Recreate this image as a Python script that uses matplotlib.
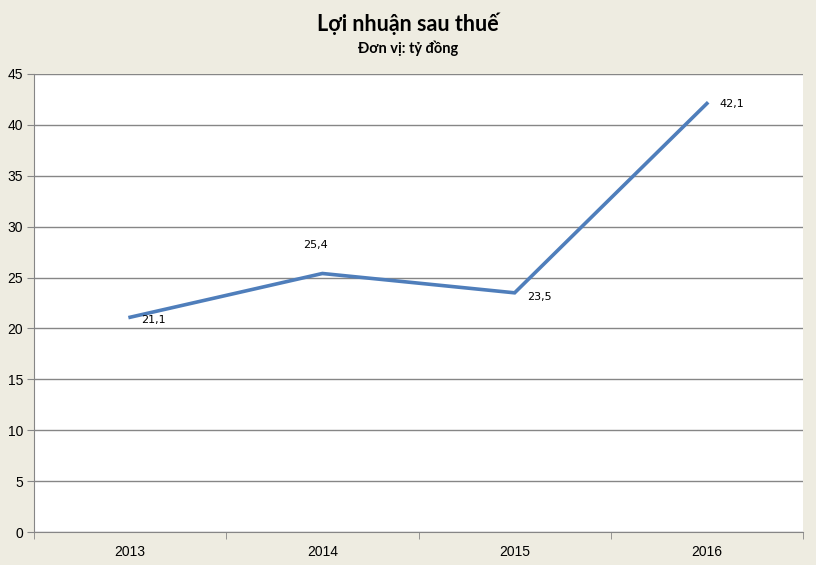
import numpy as np
import matplotlib.pyplot as plt

years = ['2013', '2014', '2015', '2016']
profit = [21.1, 25.4, 23.5, 42.1]
labels = ['21,1', '25,4', '23,5', '42,1']

bg = '#EEECE1'
fig = plt.figure(figsize=(8.16, 5.65), dpi=100, facecolor=bg)
ax = fig.add_axes([34/816, 33/565, 769/816, 458/565])
ax.set_facecolor('white')

x = np.arange(len(years))
ax.plot(x, profit, color='#4F7EBB', lw=2.6, solid_joinstyle='miter')

# data labels, offsets as in the original
offs = [(8, -2, 'left', 'center'), (-5, 17, 'center', 'bottom'),
        (9, -3, 'left', 'center'), (9, 0, 'left', 'center')]
for xi, yi, lab, (dx, dy, ha, va) in zip(x, profit, labels, offs):
    ax.annotate(lab, (xi, yi), xytext=(dx, dy), textcoords='offset points',
                ha=ha, va=va, fontsize=8, family='DejaVu Sans')

ax.set_xlim(-0.5, 3.5)
ax.set_ylim(0, 45)
ax.set_yticks(np.arange(0, 46, 5))
ax.yaxis.grid(True, color='#868686', lw=1)
ax.set_axisbelow(True)
ax.set_xticks(x)
ax.set_xticklabels(years)
ax.set_xticks(np.arange(-0.5, 4, 1), minor=True)
ax.tick_params(axis='x', which='major', length=0, pad=9)
ax.tick_params(axis='x', which='minor', length=5, color='#868686')
ax.tick_params(axis='y', length=5, color='#868686', pad=3)
for lab in ax.get_xticklabels() + ax.get_yticklabels():
    lab.set_family('Liberation Sans')
    lab.set_fontsize(10)

for s in ['top', 'right']:
    ax.spines[s].set_visible(False)
for s in ['left', 'bottom']:
    ax.spines[s].set_color('#868686')

fig.text(0.5, 1 - 24/565, 'Lợi nhuận sau thuế', ha='center', va='center',
         fontsize=15.5, fontweight='bold', family='Lato')
fig.text(0.5, 1 - 48/565, 'Đơn vị: tỷ đồng', ha='center', va='center',
         fontsize=10.5, fontweight='bold', family='Lato')

fig.savefig('out.png', dpi=100, facecolor=bg)
